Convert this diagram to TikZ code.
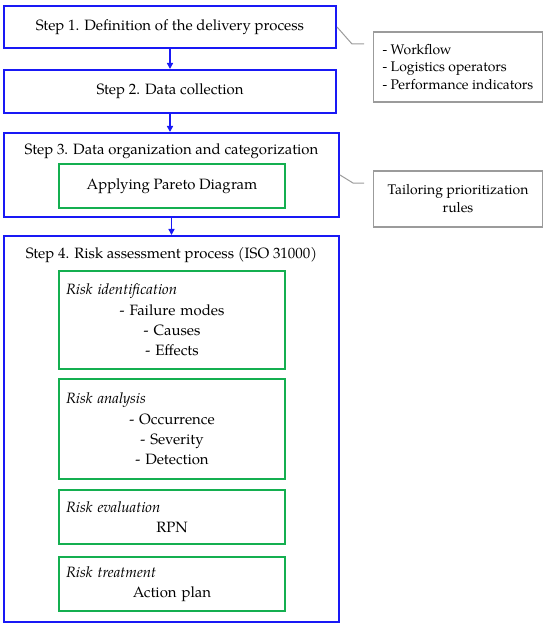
\documentclass[tikz,border=0pt]{standalone}
\usepackage{fontspec}
\setmainfont{texgyrepagella}[Extension=.otf, UprightFont=*-regular, ItalicFont=*-italic, BoldFont=*-bold]
\usetikzlibrary{arrows.meta}

\definecolor{stepblue}{RGB}{25,25,245}
\definecolor{subgreen}{RGB}{20,175,80}
\definecolor{notegray}{RGB}{155,155,155}

\begin{document}
\begin{tikzpicture}[x=1bp, y=-1bp, >={Triangle[width=6bp,length=6bp]},
  every node/.style={font=\fontsize{15}{20.5}\selectfont, inner sep=0pt},
  stepbox/.style={draw=stepblue, line width=2bp},
  subbox/.style={draw=subgreen, line width=1.5bp, minimum width=226bp},
  notebox/.style={draw=notegray, line width=1.5bp, minimum width=169bp, font=\fontsize{14}{18}\selectfont},
  riskbox/.style={subbox, text width=212bp, align=center},
  noteline/.style={notegray, line width=1bp}]
\useasboundingbox (0,0) rectangle (550,627);

% main steps
\node[stepbox, minimum width=332bp, minimum height=42bp] (s1) at (170,27) {Step 1. Definition of the delivery process};
\node[stepbox, minimum width=332bp, minimum height=43bp] (s2) at (170,91.5) {Step 2. Data collection};
\node[stepbox, minimum width=335bp, minimum height=84bp] (s3) at (171.5,175) {};
\node (t3) at (171.5,151) {Step 3. Data organization and categorization};
\node[subbox, minimum height=44bp] (pareto) at (172,186) {Applying Pareto Diagram};
\node[stepbox, minimum width=335bp, minimum height=386bp] (s4) at (171.5,429) {};
\node (t4) at (171.5,255) {Step 4. Risk assessment process (ISO 31000)};

% risk assessment stages
\node[riskbox, minimum height=98bp] (ident) at (172,320) {\textit{Risk identification}\hfill\null\\- Failure modes\\- Causes\\- Effects};
\node[riskbox, minimum height=100bp] (analysis) at (172,429) {\textit{Risk analysis}\hfill\null\\- Occurrence\\- Severity\\- Detection};
\node[riskbox, minimum height=54bp] (evaluation) at (172,517) {\textit{Risk evaluation}\hfill\null\\RPN};
\node[riskbox, minimum height=54bp] (treatment) at (172,584) {\textit{Risk treatment}\hfill\null\\Action plan};

% notes
\node[notebox, minimum height=70bp, align=left] (n1) at (458,67) {- Workflow\\- Logistics operators\\- Performance indicators};
\node[notebox, minimum height=56bp, align=center] (n2) at (458,199) {Tailoring prioritization\\rules};
\coordinate (k1) at (364,44);
\coordinate (k2) at (364,183);

\draw[->, stepblue, line width=1.5bp] (s1) -- (s2);
\draw[->, stepblue, line width=1.5bp] (s2.south) -- (s2.south |- s3.north);
\draw[->, stepblue, line width=1.5bp] (s3) -- (s4);
\draw[noteline] (s1.east) -- ++(15,17) -- (k1);
\draw[noteline] (s3.east) -- ++(13,8) -- (k2);
\end{tikzpicture}
\end{document}
